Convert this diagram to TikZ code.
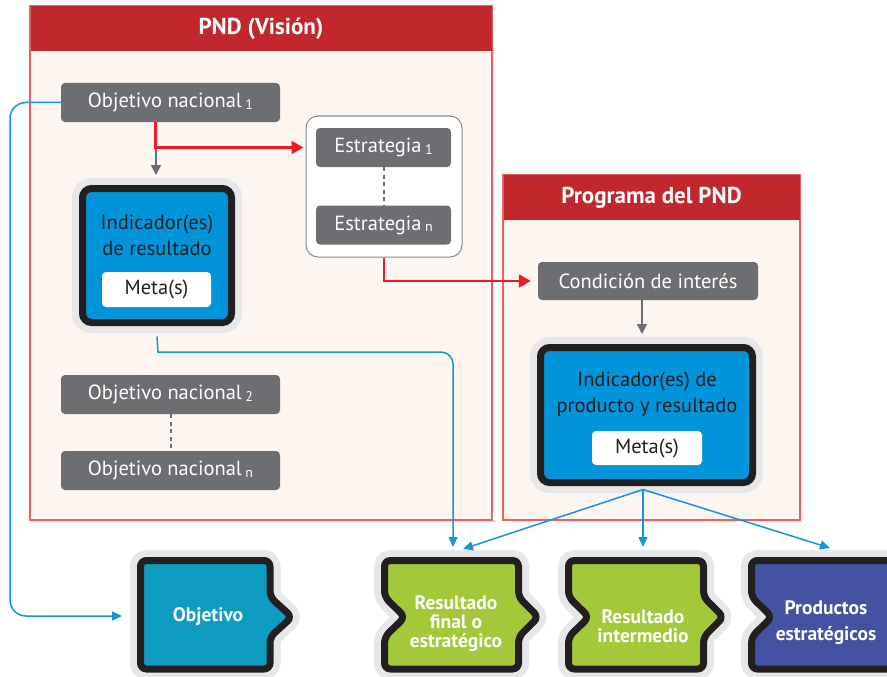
\documentclass[tikz,border=0pt]{standalone}
\usepackage{fontspec}
\setmainfont{PT Sans}
\usetikzlibrary{arrows.meta}
\definecolor{pndred}{HTML}{C1272D}
\definecolor{bodyfill}{HTML}{FDF5EF}
\definecolor{panelline}{HTML}{EC5F61}
\definecolor{boxgray}{HTML}{6D6E71}
\definecolor{arrred}{HTML}{ED1C24}
\definecolor{lineblue}{HTML}{1396D6}
\definecolor{indblue}{HTML}{0095DA}
\definecolor{halo}{HTML}{E6E7E8}
\definecolor{ink}{HTML}{231F20}
\definecolor{objfill}{HTML}{0E9CC1}
\definecolor{greenfill}{HTML}{A3C93A}
\definecolor{prodfill}{HTML}{4452A3}
\newcommand\lowidx[1]{\,\raisebox{-1.5pt}{\fontsize{14}{14}\selectfont #1}}
\begin{document}
\begin{tikzpicture}[x=1pt,y=-1pt,
  panel/.style={draw=panelline,line width=1.2pt,fill=bodyfill,inner sep=0},
  header/.style={fill=pndred,inner sep=0,text=white,font=\fontsize{23}{23}\selectfont\bfseries},
  graybox/.style={fill=boxgray,rounded corners=4pt,text=white,inner sep=0,minimum height=39pt,font=\fontsize{20.5}{20.5}\selectfont},
  group/.style={draw=boxgray!80,line width=1pt,fill=white,rounded corners=12pt,inner sep=0},
  indbox/.style={fill=indblue,draw=ink,line width=7pt,rounded corners=9pt,inner sep=0,
     preaction={draw=halo,line width=21pt}},
  metabox/.style={fill=white,rounded corners=4pt,inner sep=0,text=ink,font=\fontsize{20.5}{20.5}\selectfont},
  indtext/.style={text=ink,align=center,font=\fontsize{20.5}{26}\selectfont},
  dots/.style={draw=boxgray,line width=2pt,dash pattern=on 4pt off 3.5pt},
  redarr/.style={draw=arrred,line width=2.2pt,-{Triangle[length=12pt,width=13pt]}},
  grayarr/.style={draw=boxgray,line width=1.5pt,-{Triangle[length=10pt,width=10pt]}},
  bluearr/.style={draw=lineblue,line width=1.5pt,-{Triangle[length=10pt,width=9pt]}},
  chev/.style={draw=ink,line width=7pt,rounded corners=6pt,
     preaction={draw=halo,line width=21pt,line join=round}},
  chevtext/.style={text=white,align=center,font=\fontsize{19.5}{19}\selectfont\bfseries}
]
\useasboundingbox (0,0) rectangle (887,677);
\clip (0,0) rectangle (887,677);

% ---------- PND panel ----------
\node[panel,minimum width=462pt,minimum height=514pt] (pnd) at (261,263) {};
\node[header,minimum width=461pt,minimum height=45pt,anchor=north] (pndh) at ([yshift=-0.6pt]pnd.north) {PND (Visión)};

% ---------- Programa panel ----------
\node[panel,minimum width=297pt,minimum height=345pt] (prog) at (651.5,347.5) {};
\node[header,minimum width=296pt,minimum height=45pt,anchor=north] (progh) at ([yshift=-0.6pt]prog.north) {Programa del PND};

% ---------- nodes in PND ----------
\node[graybox,minimum width=219pt] (on1) at (170.5,102.5) {Objetivo nacional\lowidx{1}};
\node[group,minimum width=156pt,minimum height=141pt] (sg) at (384,186.5) {};
\node[graybox,minimum width=135pt] (e1) at (383.5,147.5) {Estrategia\lowidx{1}};
\node[graybox,minimum width=135pt] (en) at (383.5,225) {Estrategia\lowidx{n}};
\draw[dots] (e1.south) -- (en.north);

\node[indbox,minimum width=149pt,minimum height=134pt] (ind1) at (157,255.5) {};
\node[indtext] (ind1t) at (157,235) {Indicador(es)\\de resultado};
\node[metabox,minimum width=109pt,minimum height=35pt] (meta1) at (156.5,289.5) {Meta(s)};

\node[graybox,minimum width=219pt] (on2) at (170.5,394.5) {Objetivo nacional\lowidx{2}};
\node[graybox,minimum width=219pt] (onn) at (170.5,470.5) {Objetivo nacional\lowidx{n}};
\draw[dots] (on2.south) -- (onn.north);

% ---------- nodes in Programa ----------
\node[graybox,minimum width=220pt,minimum height=38pt] (cond) at (648,281) {Condición de interés};
\node[indbox,minimum width=212pt,minimum height=135pt] (ind2) at (646.5,415) {};
\node[indtext] (ind2t) at (647,394) {Indicador(es) de\\producto y resultado};
\node[metabox,minimum width=110pt,minimum height=34pt] (meta2) at (647,448) {Meta(s)};

% ---------- bottom shapes ----------
% Objetivo
\path[chev,fill=objfill] (140.5,560.5) -- (270,560.5) -- (270,597) -- (292,617) -- (270,637)
   -- (270,669) -- (140.5,669) -- cycle;
\node[chevtext] (obj) at (208,617) {Objetivo};
% Resultado final
\path[chev,fill=greenfill] (384.5,560.5) -- (518.5,560.5) -- (518.5,597) -- (538.5,617) -- (518.5,637)
   -- (518.5,669) -- (384.5,669) -- (384.5,637) -- (405,617) -- (384.5,597) -- cycle;
\node[chevtext] (rfin) at (456,624) {Resultado\\final o\\estratégico};
% Resultado intermedio
\path[chev,fill=greenfill] (568.5,560.5) -- (703.5,560.5) -- (703.5,597) -- (723.5,617) -- (703.5,637)
   -- (703.5,669) -- (568.5,669) -- (568.5,637) -- (589,617) -- (568.5,597) -- cycle;
\node[chevtext] (rint) at (643,626) {Resultado\\intermedio};
% Productos
\path[chev,fill=prodfill] (751.5,560.5) -- (905,560.5) -- (905,669) -- (751.5,669) -- (751.5,637)
   -- (772,617) -- (751.5,597) -- cycle;
\node[chevtext] (prod) at (826,623) {Productos\\[7pt]estratégicos};

% ---------- connectors ----------
\coordinate (objin) at (122,616);
\coordinate (rfinin) at (453,547);
\coordinate (rfinin2) at (463,549);
\coordinate (rintin) at (643,547);
\coordinate (prodin) at (830,548);

\draw[grayarr] (on1.south -| 156,0) -- ([yshift=10pt]ind1.north -| 156,0);
\draw[redarr] ([xshift=-15pt]on1.south) |- ([xshift=-2pt]sg.west |- e1);
\draw[redarr] (sg.south) |- ([xshift=-7pt]cond.west);
\draw[grayarr] (cond.south -| 642,0) -- ([yshift=10pt]ind2.north -| 642,0);

\draw[bluearr,rounded corners=16pt] (on1.west) -- (10,102.5) -- (10,616) -- (objin);
\draw[bluearr] ([yshift=-10.5pt]ind1.south) -- (158,352) [rounded corners=12pt] -- (453,352) -- (rfinin);
\draw[bluearr] ([xshift=-3.5pt,yshift=-3.5pt]ind2.south) -- (rfinin2);
\draw[bluearr] ([xshift=-3.5pt,yshift=-3.5pt]ind2.south) -- (rintin);
\draw[bluearr] ([xshift=-3.5pt,yshift=-3.5pt]ind2.south) -- (prodin);
\end{tikzpicture}
\end{document}
